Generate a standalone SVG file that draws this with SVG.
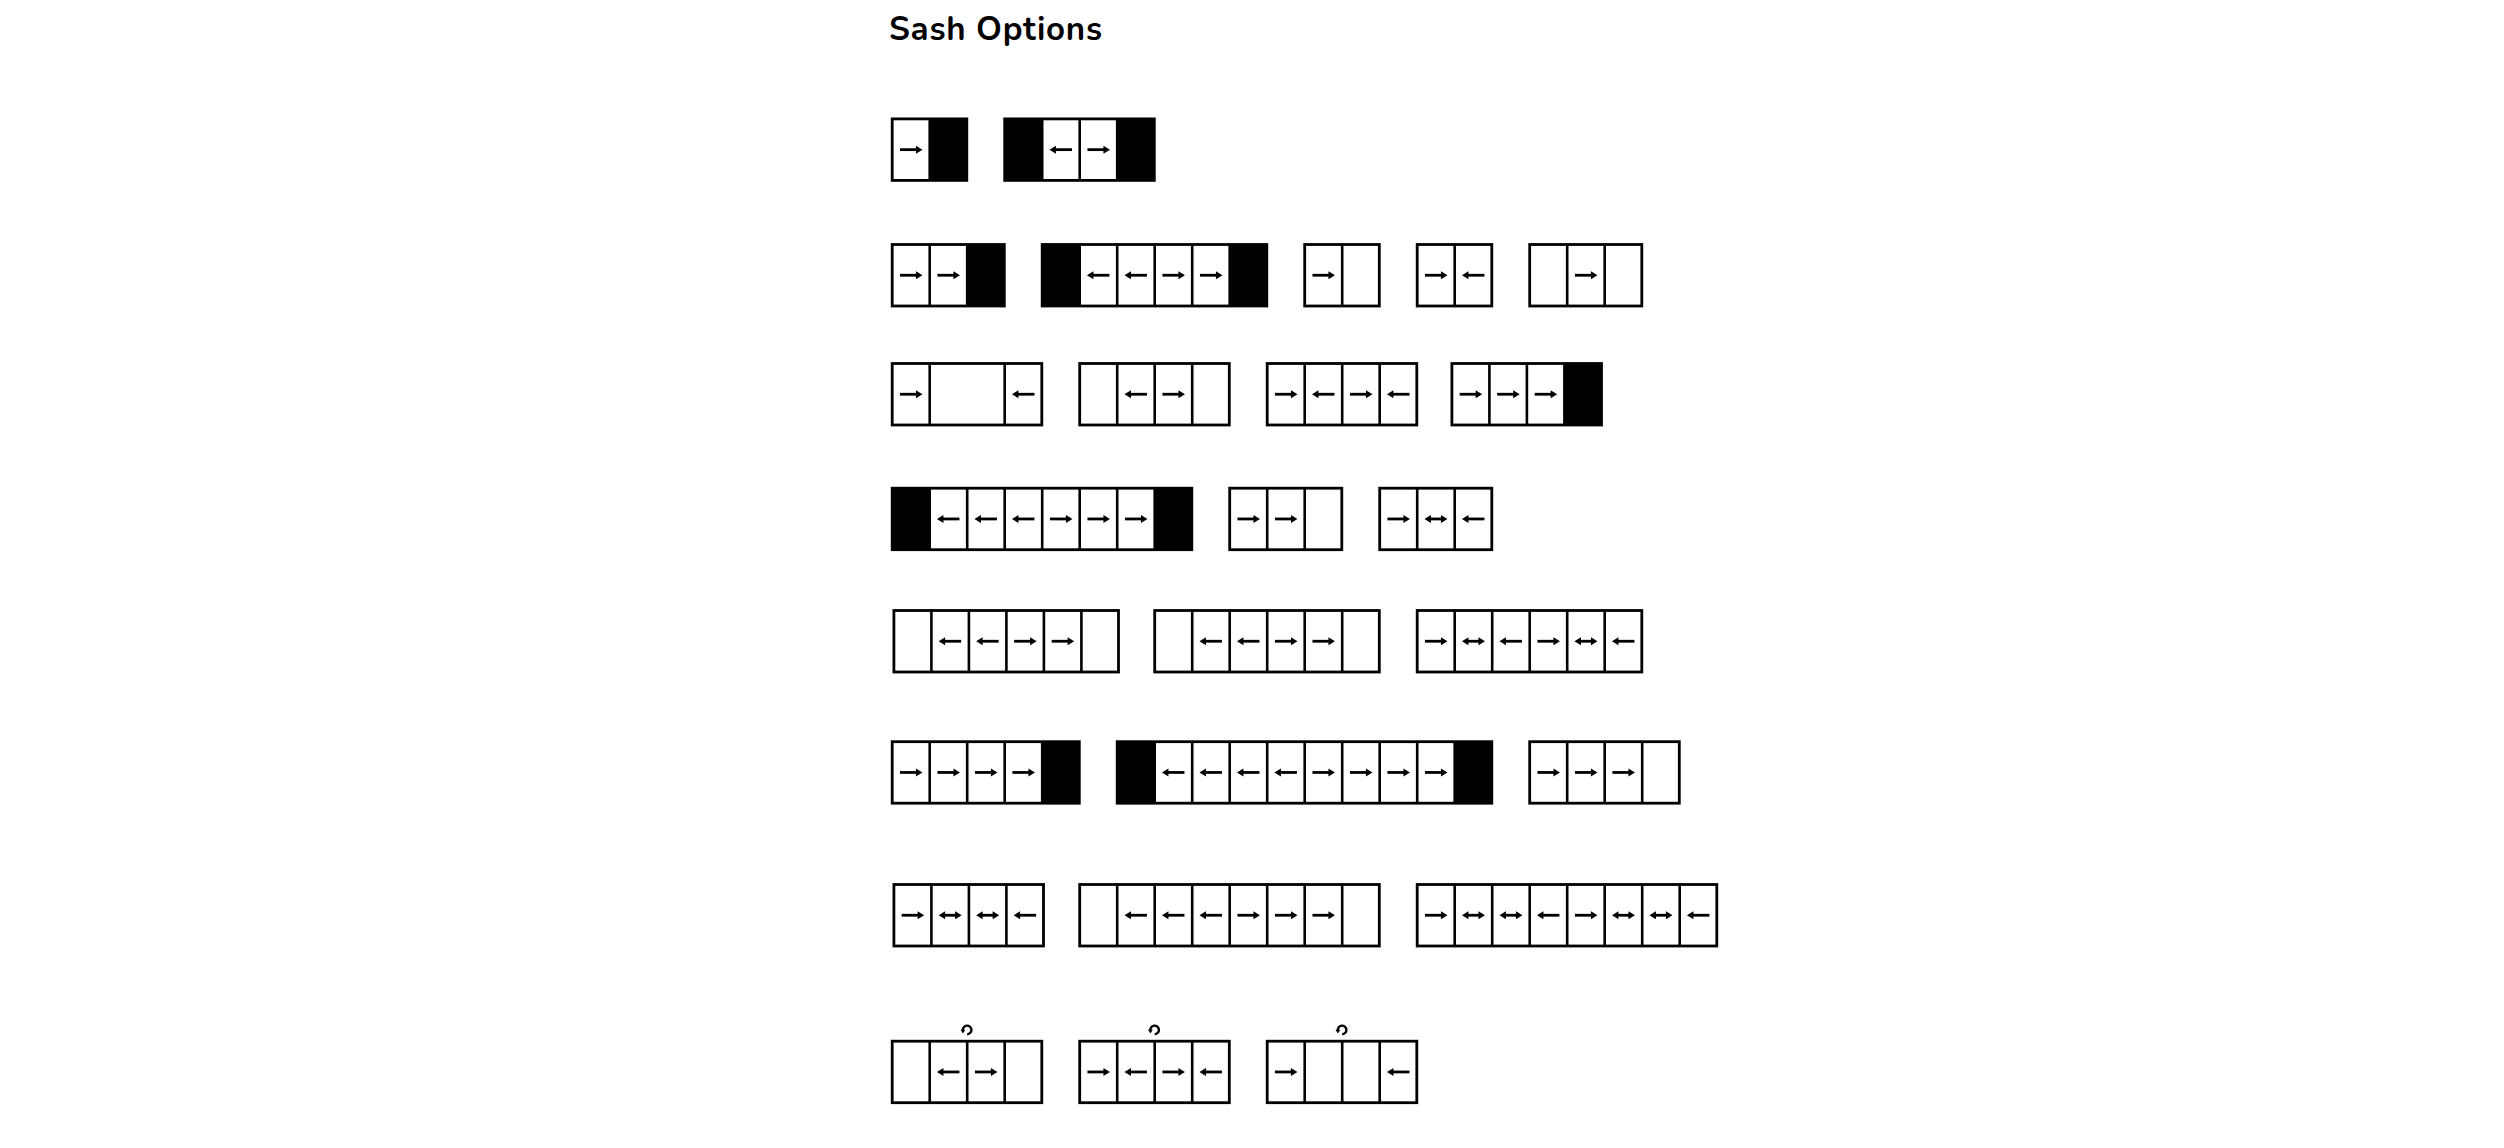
<svg xmlns="http://www.w3.org/2000/svg" xmlns:xlink="http://www.w3.org/1999/xlink" width="2504" height="1148" viewBox="0 0 2504 1148">
<style>
.frame{fill:none;stroke:#000;stroke-width:2.8;stroke-linejoin:miter}
.div{fill:none;stroke:#000;stroke-width:2.6}
.blk{fill:#000}
.shaft{fill:none;stroke:#000;stroke-width:2.8}
.title{font-family:"Nunito","Lato","Liberation Sans",sans-serif;font-weight:700;font-size:33px;fill:#000}
</style>
<defs>
<g id="R"><path class="shaft" d="M-11,0H6"/><path d="M11.5,0L5,-4L5,4Z"/></g>
<g id="L"><path class="shaft" d="M11,0H-6"/><path d="M-11.5,0L-5,-4L-5,4Z"/></g>
<g id="D"><path class="shaft" d="M-6,0H6"/><path d="M11.5,0L5,-4L5,4Z"/><path d="M-11.5,0L-5,-4L-5,4Z"/></g>
<g id="rot"><path d="M-3.8,1.5 A4.3,4.3 0 1 1 0.5,5" fill="none" stroke="#000" stroke-width="2.4"/><path d="M-6.2,0.6 L-1.4,0.6 L-3.8,4.4Z"/></g>
</defs>
<rect width="2504" height="1148" fill="#fff"/>
<text class="title" x="889" y="40" textLength="213" lengthAdjust="spacing">Sash Options</text>

<g id="r1a" transform="translate(892.2,118.9)">
<rect class="blk" x="37.5" y="0" width="37.1" height="61.5"/>
<rect class="frame" width="74.6" height="61.5"/>
<path class="div" d="M37.5,0V61.5"/>
<use xlink:href="#R" x="18.75" y="30.75"/>
</g>
<g id="r1b" transform="translate(1004.7,118.9)">
<rect class="blk" x="0" y="0" width="37.5" height="61.5"/>
<rect class="blk" x="112.5" y="0" width="37.1" height="61.5"/>
<rect class="frame" width="149.6" height="61.5"/>
<path class="div" d="M37.5,0V61.5M75,0V61.5M112.5,0V61.5"/>
<use xlink:href="#L" x="56.25" y="30.75"/>
<use xlink:href="#R" x="93.75" y="30.75"/>
</g>

<g id="r2a" transform="translate(892.2,244.5)">
<rect class="blk" x="75" y="0" width="37.1" height="61.5"/>
<rect class="frame" width="112.1" height="61.5"/>
<path class="div" d="M37.5,0V61.5M75,0V61.5"/>
<use xlink:href="#R" x="18.75" y="30.75"/>
<use xlink:href="#R" x="56.25" y="30.75"/>
</g>
<g id="r2b" transform="translate(1042.2,244.5)">
<rect class="blk" x="0" y="0" width="37.5" height="61.5"/>
<rect class="blk" x="187.5" y="0" width="37.1" height="61.5"/>
<rect class="frame" width="224.6" height="61.5"/>
<path class="div" d="M37.5,0V61.5M75,0V61.5M112.5,0V61.5M150,0V61.5M187.5,0V61.5"/>
<use xlink:href="#L" x="56.25" y="30.75"/>
<use xlink:href="#L" x="93.75" y="30.75"/>
<use xlink:href="#R" x="131.25" y="30.75"/>
<use xlink:href="#R" x="168.75" y="30.75"/>
</g>
<g id="r2c" transform="translate(1304.7,244.5)">
<rect class="frame" width="74.6" height="61.5"/>
<path class="div" d="M37.5,0V61.5"/>
<use xlink:href="#R" x="18.75" y="30.75"/>
</g>
<g id="r2d" transform="translate(1417.2,244.5)">
<rect class="frame" width="74.6" height="61.5"/>
<path class="div" d="M37.5,0V61.5"/>
<use xlink:href="#R" x="18.75" y="30.75"/>
<use xlink:href="#L" x="56.25" y="30.75"/>
</g>
<g id="r2e" transform="translate(1529.7,244.5)">
<rect class="frame" width="112.1" height="61.5"/>
<path class="div" d="M37.5,0V61.5M75,0V61.5"/>
<use xlink:href="#R" x="56.25" y="30.75"/>
</g>

<g id="r3a" transform="translate(892.2,363.5)">
<rect class="frame" width="149.6" height="61.5"/>
<path class="div" d="M37.5,0V61.5M112.5,0V61.5"/>
<use xlink:href="#R" x="18.75" y="30.75"/>
<use xlink:href="#L" x="131.25" y="30.75"/>
</g>
<g id="r3b" transform="translate(1079.7,363.5)">
<rect class="frame" width="149.6" height="61.5"/>
<path class="div" d="M37.5,0V61.5M75,0V61.5M112.5,0V61.5"/>
<use xlink:href="#L" x="56.25" y="30.75"/>
<use xlink:href="#R" x="93.75" y="30.75"/>
</g>
<g id="r3c" transform="translate(1267.2,363.5)">
<rect class="frame" width="149.6" height="61.5"/>
<path class="div" d="M37.5,0V61.5M75,0V61.5M112.5,0V61.5"/>
<use xlink:href="#R" x="18.75" y="30.75"/>
<use xlink:href="#L" x="56.25" y="30.75"/>
<use xlink:href="#R" x="93.75" y="30.75"/>
<use xlink:href="#L" x="131.25" y="30.75"/>
</g>
<g id="r3d" transform="translate(1451.9,363.5)">
<rect class="blk" x="112.5" y="0" width="37.1" height="61.5"/>
<rect class="frame" width="149.6" height="61.5"/>
<path class="div" d="M37.5,0V61.5M75,0V61.5M112.5,0V61.5"/>
<use xlink:href="#R" x="18.75" y="30.75"/>
<use xlink:href="#R" x="56.25" y="30.75"/>
<use xlink:href="#R" x="93.75" y="30.75"/>
</g>

<g id="r4a" transform="translate(892.2,488.2)">
<rect class="blk" x="0" y="0" width="37.5" height="61.5"/>
<rect class="blk" x="262.5" y="0" width="37.1" height="61.5"/>
<rect class="frame" width="299.6" height="61.5"/>
<path class="div" d="M37.5,0V61.5M75,0V61.5M112.5,0V61.5M150,0V61.5M187.5,0V61.5M225,0V61.5M262.5,0V61.5"/>
<use xlink:href="#L" x="56.25" y="30.75"/>
<use xlink:href="#L" x="93.75" y="30.75"/>
<use xlink:href="#L" x="131.25" y="30.75"/>
<use xlink:href="#R" x="168.75" y="30.75"/>
<use xlink:href="#R" x="206.25" y="30.75"/>
<use xlink:href="#R" x="243.75" y="30.75"/>
</g>
<g id="r4b" transform="translate(1229.7,488.2)">
<rect class="frame" width="112.1" height="61.5"/>
<path class="div" d="M37.5,0V61.5M75,0V61.5"/>
<use xlink:href="#R" x="18.75" y="30.75"/>
<use xlink:href="#R" x="56.25" y="30.75"/>
</g>
<g id="r4c" transform="translate(1379.7,488.2)">
<rect class="frame" width="112.1" height="61.5"/>
<path class="div" d="M37.5,0V61.5M75,0V61.5"/>
<use xlink:href="#R" x="18.75" y="30.75"/>
<use xlink:href="#D" x="56.25" y="30.75"/>
<use xlink:href="#L" x="93.75" y="30.75"/>
</g>

<g id="r5a" transform="translate(893.9,610.5)">
<rect class="frame" width="224.6" height="61.5"/>
<path class="div" d="M37.5,0V61.5M75,0V61.5M112.5,0V61.5M150,0V61.5M187.5,0V61.5"/>
<use xlink:href="#L" x="56.25" y="30.75"/>
<use xlink:href="#L" x="93.75" y="30.75"/>
<use xlink:href="#R" x="131.25" y="30.75"/>
<use xlink:href="#R" x="168.75" y="30.75"/>
</g>
<g id="r5b" transform="translate(1154.7,610.5)">
<rect class="frame" width="224.6" height="61.5"/>
<path class="div" d="M37.5,0V61.5M75,0V61.5M112.5,0V61.5M150,0V61.5M187.5,0V61.5"/>
<use xlink:href="#L" x="56.25" y="30.75"/>
<use xlink:href="#L" x="93.75" y="30.75"/>
<use xlink:href="#R" x="131.25" y="30.75"/>
<use xlink:href="#R" x="168.75" y="30.75"/>
</g>
<g id="r5c" transform="translate(1417.2,610.5)">
<rect class="frame" width="224.6" height="61.5"/>
<path class="div" d="M37.5,0V61.5M75,0V61.5M112.5,0V61.5M150,0V61.5M187.5,0V61.5"/>
<use xlink:href="#R" x="18.75" y="30.75"/>
<use xlink:href="#D" x="56.25" y="30.75"/>
<use xlink:href="#L" x="93.75" y="30.75"/>
<use xlink:href="#R" x="131.25" y="30.75"/>
<use xlink:href="#D" x="168.75" y="30.75"/>
<use xlink:href="#L" x="206.25" y="30.75"/>
</g>

<g id="r6a" transform="translate(892.2,741.7)">
<rect class="blk" x="150" y="0" width="37.1" height="61.5"/>
<rect class="frame" width="187.1" height="61.5"/>
<path class="div" d="M37.5,0V61.5M75,0V61.5M112.5,0V61.5M150,0V61.5"/>
<use xlink:href="#R" x="18.75" y="30.75"/>
<use xlink:href="#R" x="56.25" y="30.75"/>
<use xlink:href="#R" x="93.75" y="30.75"/>
<use xlink:href="#R" x="131.25" y="30.75"/>
</g>
<g id="r6b" transform="translate(1117.2,741.7)">
<rect class="blk" x="0" y="0" width="37.5" height="61.5"/>
<rect class="blk" x="337.5" y="0" width="37.1" height="61.5"/>
<rect class="frame" width="374.6" height="61.5"/>
<path class="div" d="M37.5,0V61.5M75,0V61.5M112.5,0V61.5M150,0V61.5M187.5,0V61.5M225,0V61.5M262.5,0V61.5M300,0V61.5M337.5,0V61.5"/>
<use xlink:href="#L" x="56.25" y="30.75"/>
<use xlink:href="#L" x="93.75" y="30.75"/>
<use xlink:href="#L" x="131.25" y="30.75"/>
<use xlink:href="#L" x="168.75" y="30.75"/>
<use xlink:href="#R" x="206.25" y="30.75"/>
<use xlink:href="#R" x="243.75" y="30.75"/>
<use xlink:href="#R" x="281.25" y="30.75"/>
<use xlink:href="#R" x="318.75" y="30.75"/>
</g>
<g id="r6c" transform="translate(1529.7,741.7)">
<rect class="frame" width="149.6" height="61.5"/>
<path class="div" d="M37.5,0V61.5M75,0V61.5M112.5,0V61.5"/>
<use xlink:href="#R" x="18.75" y="30.75"/>
<use xlink:href="#R" x="56.25" y="30.75"/>
<use xlink:href="#R" x="93.75" y="30.75"/>
</g>

<g id="r7a" transform="translate(893.9,884.5)">
<rect class="frame" width="149.6" height="61.5"/>
<path class="div" d="M37.5,0V61.5M75,0V61.5M112.5,0V61.5"/>
<use xlink:href="#R" x="18.75" y="30.75"/>
<use xlink:href="#D" x="56.25" y="30.75"/>
<use xlink:href="#D" x="93.75" y="30.75"/>
<use xlink:href="#L" x="131.25" y="30.75"/>
</g>
<g id="r7b" transform="translate(1079.7,884.5)">
<rect class="frame" width="299.6" height="61.5"/>
<path class="div" d="M37.5,0V61.5M75,0V61.5M112.5,0V61.5M150,0V61.5M187.5,0V61.5M225,0V61.5M262.5,0V61.5"/>
<use xlink:href="#L" x="56.25" y="30.75"/>
<use xlink:href="#L" x="93.75" y="30.75"/>
<use xlink:href="#L" x="131.25" y="30.75"/>
<use xlink:href="#R" x="168.75" y="30.75"/>
<use xlink:href="#R" x="206.25" y="30.75"/>
<use xlink:href="#R" x="243.75" y="30.75"/>
</g>
<g id="r7c" transform="translate(1417.2,884.5)">
<rect class="frame" width="299.6" height="61.5"/>
<path class="div" d="M37.5,0V61.5M75,0V61.5M112.5,0V61.5M150,0V61.5M187.5,0V61.5M225,0V61.5M262.5,0V61.5"/>
<use xlink:href="#R" x="18.75" y="30.75"/>
<use xlink:href="#D" x="56.25" y="30.75"/>
<use xlink:href="#D" x="93.75" y="30.75"/>
<use xlink:href="#L" x="131.25" y="30.75"/>
<use xlink:href="#R" x="168.75" y="30.75"/>
<use xlink:href="#D" x="206.25" y="30.75"/>
<use xlink:href="#D" x="243.75" y="30.75"/>
<use xlink:href="#L" x="281.25" y="30.75"/>
</g>

<g id="r8a" transform="translate(892.2,1041.2)">
<rect class="frame" width="149.6" height="61.5"/>
<path class="div" d="M37.5,0V61.5M75,0V61.5M112.5,0V61.5"/>
<use xlink:href="#L" x="56.25" y="30.75"/>
<use xlink:href="#R" x="93.75" y="30.75"/>
<use xlink:href="#rot" x="74.5" y="-12"/>
</g>
<g id="r8b" transform="translate(1079.7,1041.2)">
<rect class="frame" width="149.6" height="61.5"/>
<path class="div" d="M37.5,0V61.5M75,0V61.5M112.5,0V61.5"/>
<use xlink:href="#R" x="18.75" y="30.75"/>
<use xlink:href="#L" x="56.25" y="30.75"/>
<use xlink:href="#R" x="93.75" y="30.75"/>
<use xlink:href="#L" x="131.25" y="30.75"/>
<use xlink:href="#rot" x="74.5" y="-12"/>
</g>
<g id="r8c" transform="translate(1267.2,1041.2)">
<rect class="frame" width="149.6" height="61.5"/>
<path class="div" d="M37.5,0V61.5M75,0V61.5M112.5,0V61.5"/>
<use xlink:href="#R" x="18.75" y="30.75"/>
<use xlink:href="#L" x="131.25" y="30.75"/>
<use xlink:href="#rot" x="74.5" y="-12"/>
</g>
<g id="connectors"/>
</svg>
